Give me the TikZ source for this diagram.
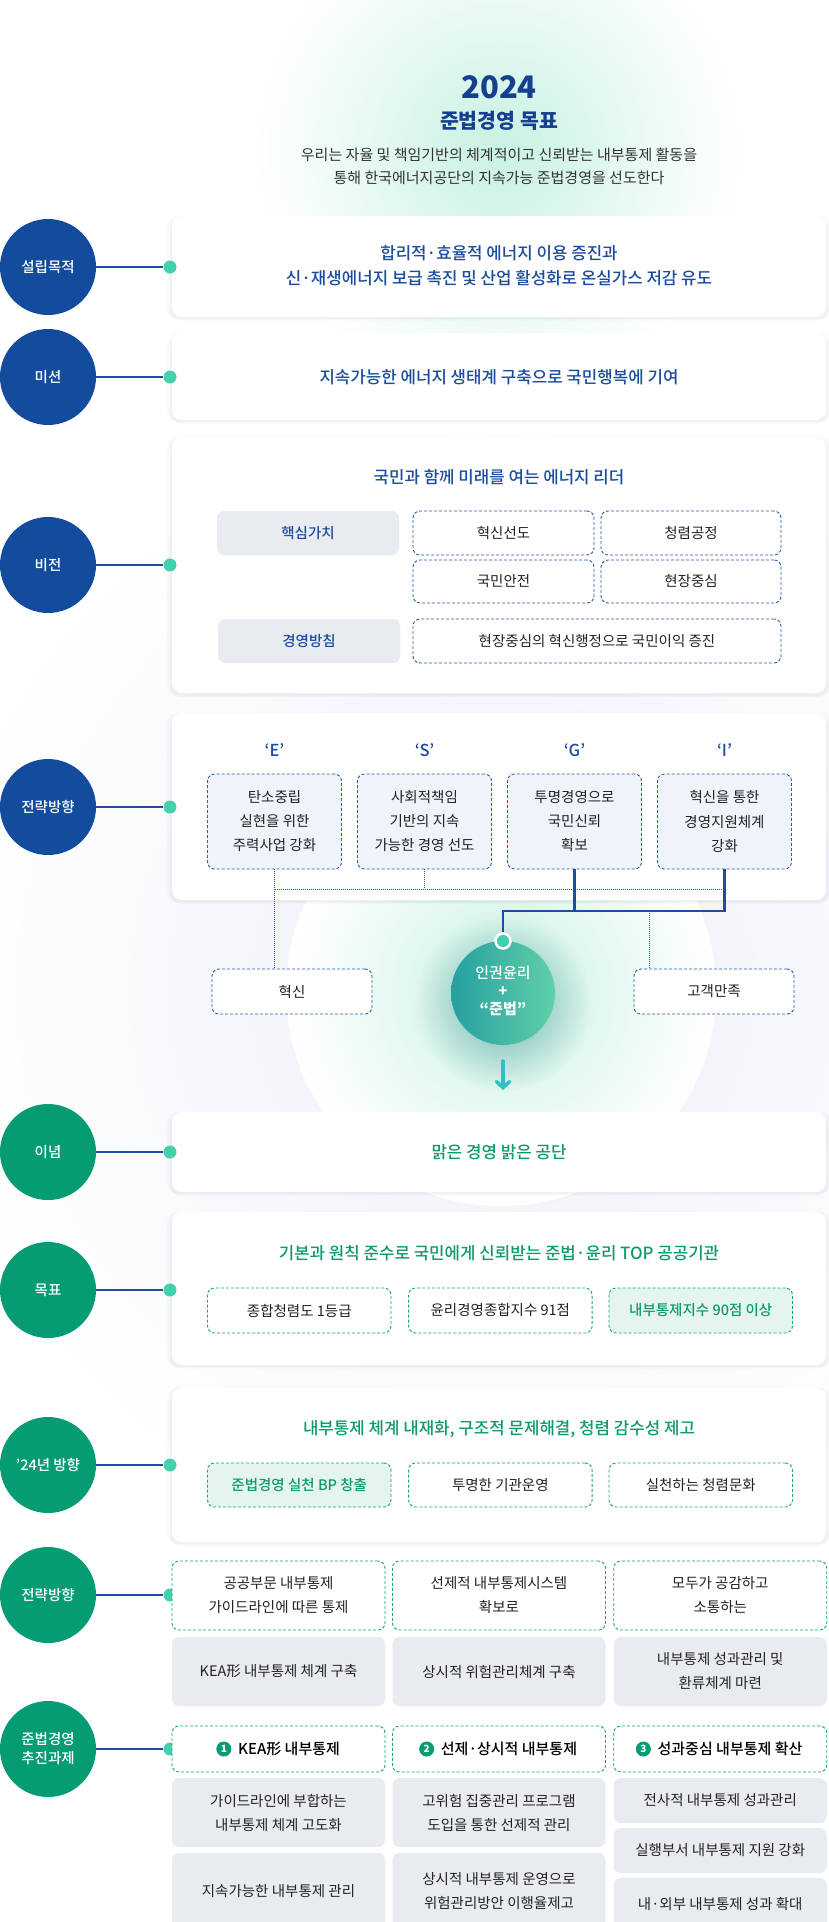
\documentclass[tikz,border=0pt]{standalone}
\usepackage{fontspec}
\setmainfont{Noto Sans CJK KR}
\newfontfamily\medfont{Noto Sans CJK KR Medium}
\usetikzlibrary{arrows.meta,shadows,fadings,calc,positioning}
\definecolor{cblue}{HTML}{134C9C}
\definecolor{cgreen}{HTML}{059C74}
\definecolor{cdot}{HTML}{43D1AB}
\definecolor{clink}{HTML}{1B4EA0}
\definecolor{tblue}{HTML}{1C4C9E}
\definecolor{ttitle}{HTML}{173F8F}
\definecolor{tgreen}{HTML}{0E9A6E}
\definecolor{tdark}{HTML}{222222}
\definecolor{grayfill}{HTML}{E8ECF1}
\definecolor{ltblue}{HTML}{EEF4F9}
\definecolor{dblue}{HTML}{2B5CAB}
\definecolor{dgreen}{HTML}{18A57A}
\definecolor{ltgreen}{HTML}{E4F5EF}
\definecolor{glowgreen}{HTML}{C9F2E3}
\definecolor{ringc}{HTML}{E7EAF5}
\definecolor{arrc}{HTML}{2CC0C8}
\definecolor{ellL}{HTML}{26A0A0}
\definecolor{ellR}{HTML}{5FCFA8}
\tikzfading[name=softglow, inner color=transparent!0, outer color=transparent!100]
\pgfdeclareradialshading{bigring}{\pgfpoint{0bp}{0bp}}{color(0bp)=(white); color(38bp)=(white); color(49bp)=(ringc); color(50bp)=(ringc); color(100bp)=(ringc)}
\begin{document}
\begin{tikzpicture}[x=1pt,y=-1pt,
  card/.style={fill=white, rounded corners=10pt, inner sep=0pt,
    general shadow={fill=black!70!blue, opacity=0.03, shadow yshift=-3pt, shadow scale=1.006},
    general shadow={fill=black!70!blue, opacity=0.025, shadow yshift=-1pt, shadow scale=1.014}},
  bcirc/.style={circle, fill=cblue, minimum size=96pt, inner sep=0pt, text=white, align=center, font=\medfont\fontsize{14.5}{21}\selectfont},
  gcirc/.style={bcirc, fill=cgreen},
  dot/.style={circle, fill=cdot, minimum size=13pt, inner sep=0pt},
  link/.style={draw=clink, line width=1.3pt},
  ctext/.style={align=center, text=tblue, font=\medfont\fontsize{16.8}{25}\selectfont},
  gtext/.style={ctext, text=tgreen},
  btxt/.style={align=center, text=tdark, font=\fontsize{14.5}{24}\selectfont},
  graybox/.style={btxt, fill=grayfill, rounded corners=7pt, inner sep=0pt},
  dashb/.style={btxt, draw=dblue, line width=0.9pt, dash pattern=on 3pt off 2pt, rounded corners=7pt, fill=white, inner sep=0pt},
  dashg/.style={dashb, draw=dgreen},
  dashgf/.style={dashg, fill=ltgreen, text=tgreen, font=\medfont\fontsize{14.5}{24}\selectfont},
  dotl/.style={draw=dblue, line width=0.9pt, dash pattern=on 1pt off 1pt},
  numc/.style={circle, fill=cgreen, text=white, minimum size=15pt, inner sep=0pt, font=\bfseries\fontsize{10}{10}\selectfont}
]
\useasboundingbox (0,0) rectangle (828,1922);
\fill[white] (0,0) rectangle (828,1922);

% background glows
\fill[color=glowgreen, path fading=softglow] (499,150) circle (240);
\fill[color=ringc, opacity=0.7, path fading=softglow] (501,991) circle (560);
\shade[shading=bigring] (501,991) circle (215);
\fill[color=glowgreen, path fading=softglow] (503,993) circle (210);
\fill[color=ellL!80!black, opacity=0.55, path fading=softglow] (503,1003) circle (88);

% title
\node[text=ttitle, font=\bfseries\fontsize{31}{32}\selectfont] (yr) at (499,87) {2024};
\node[text=ttitle, font=\bfseries\fontsize{20.5}{22}\selectfont] (goal) at (499,121) {준법경영 목표};
\node[align=center, text=black!80, font=\fontsize{15}{23}\selectfont] (desc) at (499,166.5) {우리는 자율 및 책임기반의 체계적이고 신뢰받는 내부통제 활동을\\통해 한국에너지공단의 지속가능 준법경영을 선도한다};

% cards
\node[card, minimum width=654pt, minimum height=101pt] (c1) at (499,266.5) {};
\node[card, minimum width=654pt, minimum height=87pt] (c2) at (499,376.5) {};
\node[card, minimum width=654pt, minimum height=256pt] (c3) at (499,565) {};
\node[card, minimum width=654pt, minimum height=187pt] (c4) at (499,806.5) {};
\node[card, minimum width=654pt, minimum height=80pt] (c5) at (499,1152) {};
\node[card, minimum width=654pt, minimum height=153pt] (c6) at (499,1288.5) {};
\node[card, minimum width=654pt, minimum height=154pt] (c7) at (499,1465) {};

% left circles, dots and links
\node[bcirc] (L1) at (48,267) {설립목적};
\node[bcirc] (L2) at (48,377) {미션};
\node[bcirc] (L3) at (48,565) {비전};
\node[bcirc] (L4) at (48,807) {전략방향};
\node[gcirc] (L5) at (48,1152) {이념};
\node[gcirc] (L6) at (48,1290) {목표};
\node[gcirc] (L7) at (48,1465) {’24년 방향};
\node[gcirc] (L8) at (48,1595) {전략방향};
\node[gcirc] (L9) at (48,1749) {준법경영\\[-2pt]추진과제};
\foreach \i/\yy in {1/267,2/377,3/565,4/807,5/1152,6/1290,7/1465,8/1595,9/1749}{
  \node[dot] (D\i) at (170,\yy) {};
  \draw[link] (L\i) -- (D\i);
}

% card 1, 2
\node[ctext] (t1) at (499,265.5) {합리적·효율적 에너지 이용 증진과\\신·재생에너지 보급 촉진 및 산업 활성화로 온실가스 저감 유도};
\node[ctext] (t2) at (499,377) {지속가능한 에너지 생태계 구축으로 국민행복에 기여};

% card 3
\node[ctext] (t3) at (499,477) {국민과 함께 미래를 여는 에너지 리더};
\node[graybox, text=tblue, font=\medfont\fontsize{14.5}{24}\selectfont, minimum width=182pt, minimum height=44pt] (kv) at (308,533) {핵심가치};
\node[dashb, minimum width=181pt, minimum height=44pt] (v1) at (503.5,533) {혁신선도};
\node[dashb, minimum width=180pt, minimum height=44pt] (v2) at (691,533) {청렴공정};
\node[dashb, minimum width=181pt, minimum height=43pt] (v3) at (503.5,581.5) {국민안전};
\node[dashb, minimum width=180pt, minimum height=43pt] (v4) at (691,581.5) {현장중심};
\node[graybox, text=tblue, font=\medfont\fontsize{14.5}{24}\selectfont, minimum width=182pt, minimum height=44pt] (mp) at (309,641) {경영방침};
\node[dashb, minimum width=368pt, minimum height=44pt] (mpt) at (597,641) {현장중심의 혁신행정으로 국민이익 증진};

% card 4
\foreach \n/\xx/\lab in {E/274.5/‘E’,S/424.5/‘S’,G/574.5/‘G’,I/724.5/‘I’}{
  \node[text=tblue, font=\medfont\fontsize{16.5}{18}\selectfont] (lab\n) at (\xx,750) {\lab};
}
\node[dashb, fill=ltblue, minimum width=134pt, minimum height=95pt] (sE) at (274.5,821.5) {탄소중립\\실현을 위한\\주력사업 강화};
\node[dashb, fill=ltblue, minimum width=134pt, minimum height=95pt] (sS) at (424.5,821.5) {사회적책임\\기반의 지속\\가능한 경영 선도};
\node[dashb, fill=ltblue, minimum width=134pt, minimum height=95pt] (sG) at (574.5,821.5) {투명경영으로\\국민신뢰\\확보};
\node[dashb, fill=ltblue, minimum width=134pt, minimum height=95pt] (sI) at (724.5,821.5) {혁신을 통한\\경영지원체계\\강화};

\node[dashb, minimum width=160pt, minimum height=45pt] (hx) at (292,991.5) {혁신};
\node[dashb, minimum width=160pt, minimum height=45pt] (gm) at (714,991.5) {고객만족};

\coordinate (dl) at (274.5,889);
\coordinate (dr) at (724.5,889);
\coordinate (jR) at (724.5,911);
\coordinate (jL) at (503,911);
\coordinate (jC) at (649,911);
\draw[dotl] (sE.south) -- (sE.south |- hx.north);
\draw[dotl] (sS.south) -- (sS.south |- dl);
\draw[dotl] (dl) -- (dr);
\draw[dotl] (jC) -- (jC |- gm.north);

\node[circle, minimum size=104pt, inner sep=0pt, left color=ellL, right color=ellR, shading angle=90] (ell) at (503,993) {};
\node[align=center, text=white, font=\medfont\fontsize{15}{18}\selectfont] (ellt) at (503,991) {인권윤리\\\textbf{+}\\\textbf{“준법”}};
\node[circle, fill=cdot, draw=white, line width=2.5pt, minimum size=15pt, inner sep=0pt] (top) at (503,941) {};
\draw[draw=clink, line width=2.2pt] (sG.south) -- (sG.south |- jR);
\draw[draw=clink, line width=2.2pt, line join=miter] (sI.south) -- (jR) -- (jL) -- (top.north);
\coordinate (arrEnd) at (503,1090);
\draw[draw=arrc, line width=3.5pt, line cap=round, -{Straight Barb[length=6pt, width=13pt, line cap=round]}, shorten <=16pt] (ell.south) -- (arrEnd);

% card 5
\node[gtext] (t5) at (499,1152) {맑은 경영 밝은 공단};

% card 6
\node[gtext] (t6) at (499,1253) {기본과 원칙 준수로 국민에게 신뢰받는 준법·윤리 TOP 공공기관};
\node[dashg, minimum width=183.5pt, minimum height=45pt] (g1) at (299.25,1310.5) {종합청렴도 1등급};
\node[dashg, minimum width=183.5pt, minimum height=45pt] (g2) at (500.35,1310.5) {윤리경영종합지수 91점};
\node[dashgf, minimum width=183.5pt, minimum height=45pt] (g3) at (700.75,1310.5) {내부통제지수 90점 이상};

% card 7
\node[gtext] (t7) at (499,1429) {내부통제 체계 내재화, 구조적 문제해결, 청렴 감수성 제고};
\node[dashgf, minimum width=183.5pt, minimum height=44pt] (p1) at (299.25,1485) {준법경영 실천 BP 창출};
\node[dashg, minimum width=183.5pt, minimum height=44pt] (p2) at (500.35,1485) {투명한 기관운영};
\node[dashg, minimum width=183.5pt, minimum height=44pt] (p3) at (700.75,1485) {실천하는 청렴문화};

% strategy 2
\node[dashg, minimum width=213pt, minimum height=69pt] (s1) at (278.5,1595.5) {공공부문 내부통제\\가이드라인에 따른 통제};
\node[dashg, minimum width=213pt, minimum height=69pt] (s2) at (499,1595.5) {선제적 내부통제시스템\\확보로};
\node[dashg, minimum width=213pt, minimum height=69pt] (s3) at (720.25,1595.5) {모두가 공감하고\\소통하는};
\node[graybox, minimum width=213pt, minimum height=69pt] (r1) at (278.5,1671.5) {KEA形 내부통제 체계 구축};
\node[graybox, minimum width=213pt, minimum height=69pt] (r2) at (499,1671.5) {상시적 위험관리체계 구축};
\node[graybox, minimum width=213pt, minimum height=69pt] (r3) at (720.25,1671.5) {내부통제 성과관리 및\\환류체계 마련};

% tasks
\node[dashg, minimum width=213pt, minimum height=46pt] (h1) at (278.5,1749) {};
\node[dashg, minimum width=213pt, minimum height=46pt] (h2) at (499,1749) {};
\node[dashg, minimum width=213pt, minimum height=46pt] (h3) at (720.25,1749) {};
\node[btxt, font=\medfont\fontsize{15}{18}\selectfont, text=black] (h1t) at (289,1749) {KEA形 내부통제};
\node[btxt, font=\medfont\fontsize{15}{18}\selectfont, text=black] (h2t) at (509,1749) {선제·상시적 내부통제};
\node[btxt, font=\medfont\fontsize{15}{18}\selectfont, text=black] (h3t) at (730,1749) {성과중심 내부통제 확산};
\node[numc, left=3pt of h1t] (n1) {1};
\node[numc, left=3pt of h2t] (n2) {2};
\node[numc, left=3pt of h3t] (n3) {3};

\node[graybox, minimum width=213pt, minimum height=69pt] (a1) at (278.5,1812.5) {가이드라인에 부합하는\\내부통제 체계 고도화};
\node[graybox, minimum width=213pt, minimum height=77pt] (a2) at (278.5,1891.5) {지속가능한 내부통제 관리};
\node[graybox, minimum width=213pt, minimum height=69pt] (b1) at (499,1812.5) {고위험 집중관리 프로그램\\도입을 통한 선제적 관리};
\node[graybox, minimum width=213pt, minimum height=77pt] (b2) at (499,1891.5) {상시적 내부통제 운영으로\\위험관리방안 이행율제고};
\node[graybox, minimum width=213pt, minimum height=45pt] (e1) at (720.25,1800.5) {전사적 내부통제 성과관리};
\node[graybox, minimum width=213pt, minimum height=45pt] (e2) at (720.25,1850.5) {실행부서 내부통제 지원 강화};
\node[graybox, minimum width=213pt, minimum height=52pt] (e3) at (720.25,1904) {내·외부 내부통제 성과 확대};
\end{tikzpicture}
\end{document}
